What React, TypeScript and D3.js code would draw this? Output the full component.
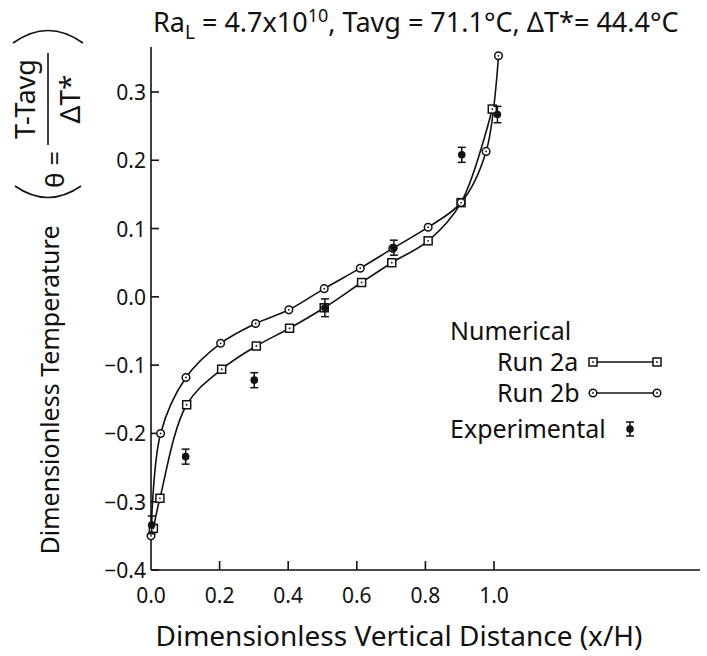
import * as d3 from 'd3'

// values
const run2aX = [0.007, 0.026, 0.104, 0.206, 0.307, 0.404, 0.505, 0.614, 0.702, 0.808, 0.904, 0.995]
const run2aY = [-0.339, -0.295, -0.158, -0.106, -0.072, -0.046, -0.016, 0.021, 0.05, 0.082, 0.138, 0.275]

const run2bX = [0.0, 0.028, 0.102, 0.203, 0.305, 0.402, 0.505, 0.61, 0.705, 0.808, 0.904, 0.977, 1.013]
const run2bY = [-0.35, -0.2, -0.118, -0.068, -0.039, -0.019, 0.012, 0.042, 0.071, 0.102, 0.138, 0.213, 0.353]

const expX = [0.002, 0.101, 0.301, 0.507, 0.708, 0.906, 1.01]
const expY = [-0.334, -0.234, -0.122, -0.016, 0.072, 0.208, 0.267]
const expErr = [0.013, 0.011, 0.011, 0.013, 0.011, 0.011, 0.012]

const xTicks = [0, 0.2, 0.4, 0.6, 0.8, 1.0]
const yTicks = [-0.4, -0.3, -0.2, -0.1, 0.0, 0.1, 0.2, 0.3]

const W = 707
const H = 656
const ink = '#111'
const font = '"Noto Sans", sans-serif'

const margin = { left: 151, top: 47, bottom: 86 }
const axisRight = 700

const x = d3.scaleLinear().domain([0, 1]).range([margin.left, 494])
const y = d3.scaleLinear().domain([-0.4, 0.3]).range([H - margin.bottom, 92])
const yTop = 0.366

type Pt = [number, number]
const zip = (xs: number[], ys: number[]): Pt[] => xs.map((v, i) => [v, ys[i]])

const line = d3
  .line<Pt>()
  .x(d => x(d[0]))
  .y(d => y(d[1]))
  .curve(d3.curveCatmullRom.alpha(0.5))

const Circ = ({ cx, cy }: { cx: number; cy: number }) => (
  <g>
    <circle cx={cx} cy={cy} r={3.8} fill="#fff" stroke={ink} strokeWidth={1.5} />
    <circle cx={cx} cy={cy} r={0.9} fill={ink} />
  </g>
)

const Sq = ({ cx, cy }: { cx: number; cy: number }) => (
  <g>
    <rect x={cx - 4} y={cy - 4} width={8} height={8} fill="#fff" stroke={ink} strokeWidth={1.5} />
    <circle cx={cx} cy={cy} r={0.9} fill={ink} />
  </g>
)

const Exp = ({ cx, cy, lo, hi }: { cx: number; cy: number; lo: number; hi: number }) => (
  <g stroke={ink} strokeWidth={1.5}>
    <line x1={cx} x2={cx} y1={lo} y2={hi} />
    <line x1={cx - 4} x2={cx + 4} y1={lo} y2={lo} />
    <line x1={cx - 4} x2={cx + 4} y1={hi} y2={hi} />
    <circle cx={cx} cy={cy} r={3.8} fill={ink} stroke="none" />
  </g>
)

export default function App() {
  const a = zip(run2aX, run2aY)
  const b = zip(run2bX, run2bY)
  const x0 = margin.left
  const yBase = y(-0.4)

  return (
    <svg width={W} height={H} style={{ position: 'absolute', left: 0, top: 0, background: '#fff' }} fontFamily={font}>
      {/* title */}
      <text x={153} y={32} fontSize={27} fill={ink}>
        Ra<tspan fontSize={19} dy={7}>L</tspan>
        <tspan dy={-7}> = 4.7x10</tspan>
        <tspan fontSize={18} dy={-10}>10</tspan>
        <tspan dy={10}>, Tavg = 71.1°C, ΔT*= 44.4°C</tspan>
      </text>

      {/* axes */}
      <g stroke={ink} strokeWidth={1.6} fill="none">
        <line x1={x0} x2={x0} y1={y(yTop)} y2={yBase} />
        <line x1={x0} x2={axisRight} y1={yBase} y2={yBase} />
        {yTicks.map(t => (
          <line key={t} x1={x0} x2={x0 + 8} y1={y(t)} y2={y(t)} />
        ))}
        {xTicks.slice(1).map(t => (
          <line key={t} x1={x(t)} x2={x(t)} y1={yBase} y2={yBase - 9} />
        ))}
      </g>
      <g fontSize={21} fill={ink}>
        {yTicks.map(t => (
          <text key={t} x={x0 - 5} y={y(t)} textAnchor="end" dominantBaseline="central">
            {d3.format('.1f')(t)}
          </text>
        ))}
        {xTicks.map(t => (
          <text key={t} x={x(t)} y={603} textAnchor="middle">
            {d3.format('.1f')(t)}
          </text>
        ))}
      </g>

      {/* axis titles */}
      <text x={399} y={646} fontSize={28} fill={ink} textAnchor="middle">
        Dimensionless Vertical Distance (x/H)
      </text>
      <text transform={`translate(59, 390) rotate(-90)`} fontSize={25} fill={ink} textAnchor="middle">
        Dimensionless Temperature
      </text>

      {/* theta = (T - Tavg) / dT* */}
      <g transform="translate(48, 99) rotate(-90)" fill={ink}>
        <text x={0} y={-13} fontSize={27} textAnchor="middle">T-Tavg</text>
        <line x1={-46} x2={46} y1={0} y2={0} stroke={ink} strokeWidth={1.6} />
        <text x={0} y={32} fontSize={28} textAnchor="middle">ΔT*</text>
        <text x={-52} y={16} fontSize={26} textAnchor="end">θ =</text>
      </g>
      <path d="M13,43 Q48,18 83,43" fill="none" stroke={ink} strokeWidth={1.6} />
      <path d="M15,186 Q48,209 81,186" fill="none" stroke={ink} strokeWidth={1.6} />

      {/* curves */}
      <path d={line(a) ?? ''} fill="none" stroke={ink} strokeWidth={1.6} />
      <path d={line(b) ?? ''} fill="none" stroke={ink} strokeWidth={1.6} />
      {a.map((d, i) => (
        <Sq key={'a' + i} cx={x(d[0])} cy={y(d[1])} />
      ))}
      {b.map((d, i) => (
        <Circ key={'b' + i} cx={x(d[0])} cy={y(d[1])} />
      ))}
      {expX.map((v, i) => (
        <Exp
          key={'e' + i}
          cx={x(v)}
          cy={y(expY[i])}
          lo={y(expY[i] - expErr[i])}
          hi={y(expY[i] + expErr[i])}
        />
      ))}

      {/* legend */}
      <g fontSize={25} fill={ink}>
        <text x={450} y={340}>Numerical</text>
        <text x={497} y={371}>Run 2a</text>
        <text x={497} y={402}>Run 2b</text>
        <text x={450} y={438}>Experimental</text>
      </g>
      <g>
        <line x1={593} x2={657} y1={362} y2={362} stroke={ink} strokeWidth={1.6} />
        <Sq cx={593} cy={362} />
        <Sq cx={657} cy={362} />
        <line x1={593} x2={657} y1={393} y2={393} stroke={ink} strokeWidth={1.6} />
        <Circ cx={593} cy={393} />
        <Circ cx={657} cy={393} />
        <Exp cx={630} cy={429} lo={422} hi={436} />
      </g>
    </svg>
  )
}
